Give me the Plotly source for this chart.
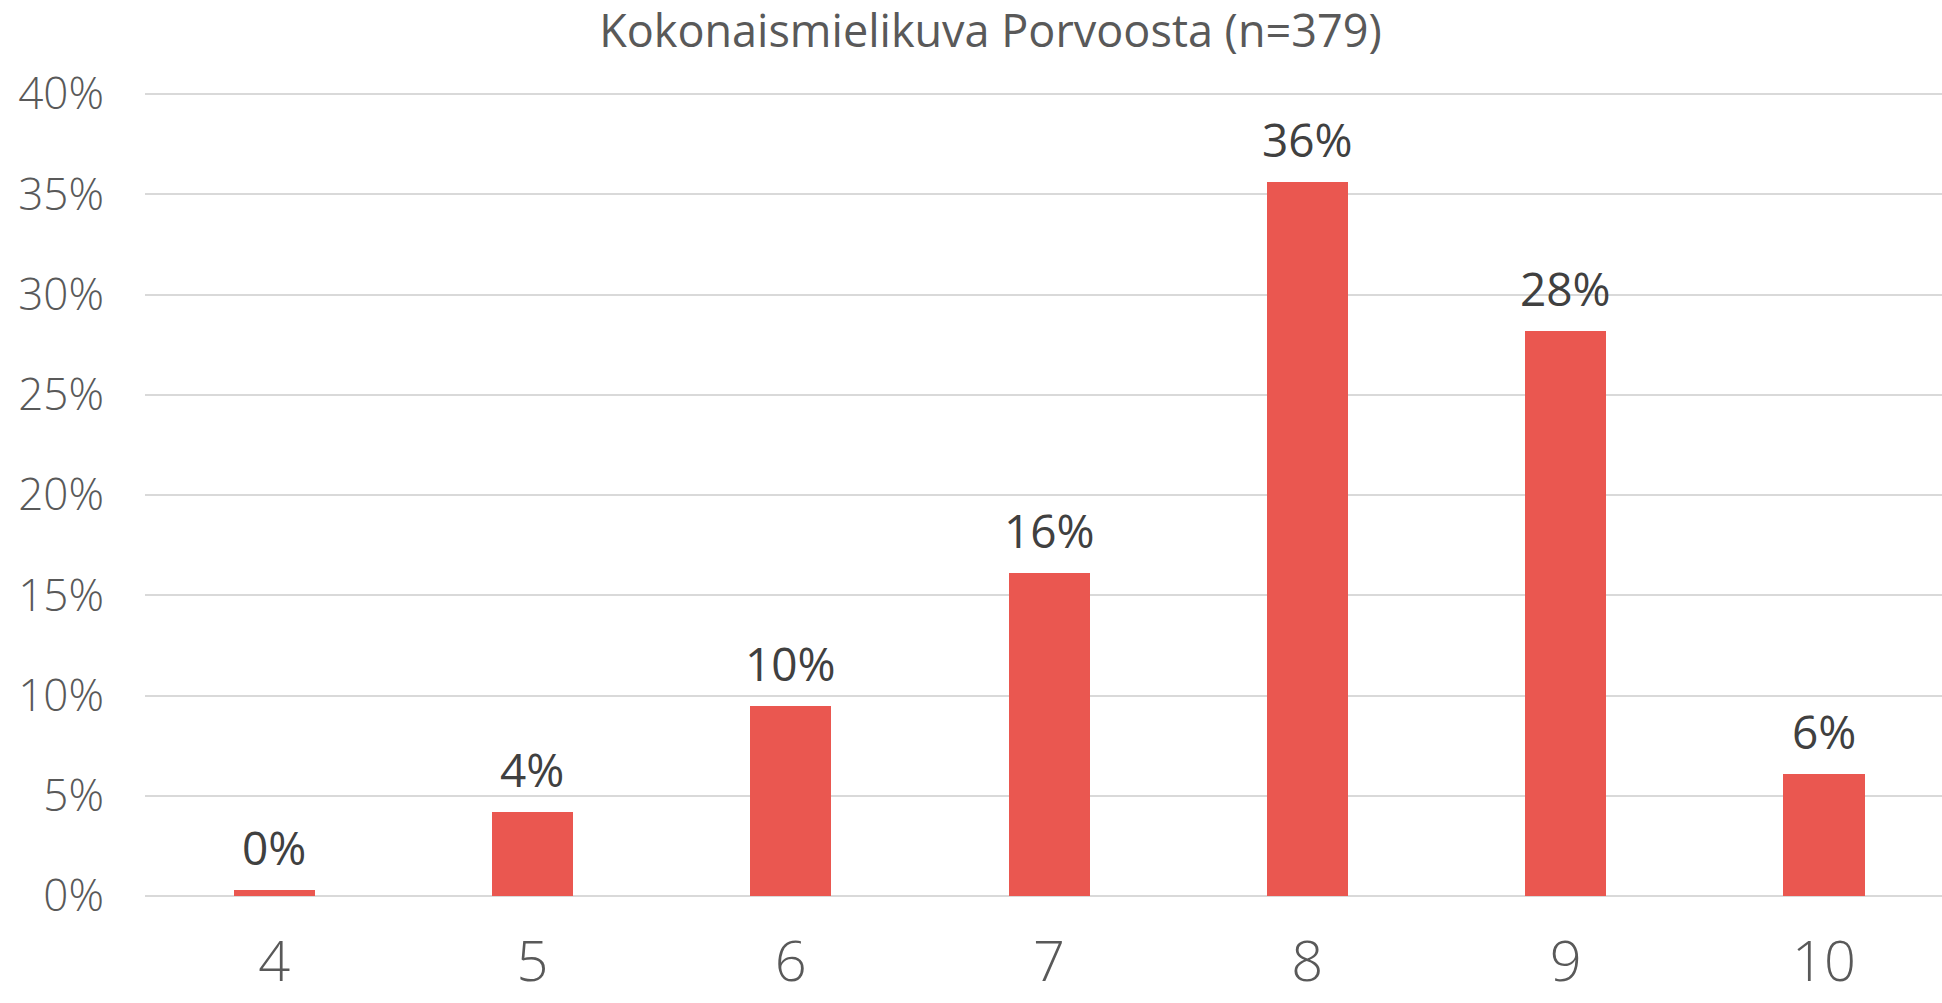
import plotly.graph_objects as go

categories = ["4", "5", "6", "7", "8", "9", "10"]
values = [0.3, 4.2, 9.5, 16.1, 35.6, 28.2, 6.1]
labels = ["0%", "4%", "10%", "16%", "36%", "28%", "6%"]
y_ticks = [0, 5, 10, 15, 20, 25, 30, 35, 40]
y_tick_labels = ["0%", "5%", "10%", "15%", "20%", "25%", "30%", "35%", "40%"]

FONT = "Open Sans"

fig = go.Figure(
    go.Bar(
        x=categories,
        y=values,
        width=0.314,
        marker=dict(color="#EA5750", line=dict(width=0)),
        cliponaxis=False,
        hoverinfo="skip",
    )
)

for i, (v, t) in enumerate(zip(values, labels)):
    fig.add_annotation(
        x=i, y=v, xref="x", yref="y", text=t, showarrow=False,
        xanchor="center", yanchor="bottom", yshift=10,
        font=dict(family=FONT, size=46, color="#404040"),
    )

fig.update_layout(
    width=1942,
    height=1003,
    margin=dict(l=145, r=0, t=92, b=107),
    paper_bgcolor="white",
    plot_bgcolor="white",
    showlegend=False,
    title=dict(
        text="Kokonaismielikuva Porvoosta (n=379)",
        x=0.510,
        xanchor="center",
        xref="container",
        y=0.985,
        yanchor="top",
        yref="container",
        pad=dict(t=0),
        font=dict(family=FONT, size=45, color="#595959"),
    ),
    xaxis=dict(
        type="category",
        range=[-0.5, 6.457],
        showgrid=False,
        showline=False,
        zeroline=False,
        ticks="",
        automargin=False,
        tickfont=dict(family=FONT, size=56, color="#595959", weight=300),
        ticklabelstandoff=28,
    ),
    yaxis=dict(
        range=[0, 40.1],
        tickvals=y_ticks,
        ticktext=y_tick_labels,
        showgrid=True,
        gridcolor="#D9D9D9",
        gridwidth=2,
        zeroline=True,
        zerolinecolor="#D9D9D9",
        zerolinewidth=2,
        showline=False,
        ticks="",
        automargin=False,
        tickfont=dict(family=FONT, size=44, color="#595959", weight=300),
        ticklabelstandoff=40,
    ),
    bargap=0,
)

fig.write_html(
    "out.html",
    config={"displayModeBar": False},
    post_script="document.body.style.margin='0';document.body.style.overflow='hidden';",
)
